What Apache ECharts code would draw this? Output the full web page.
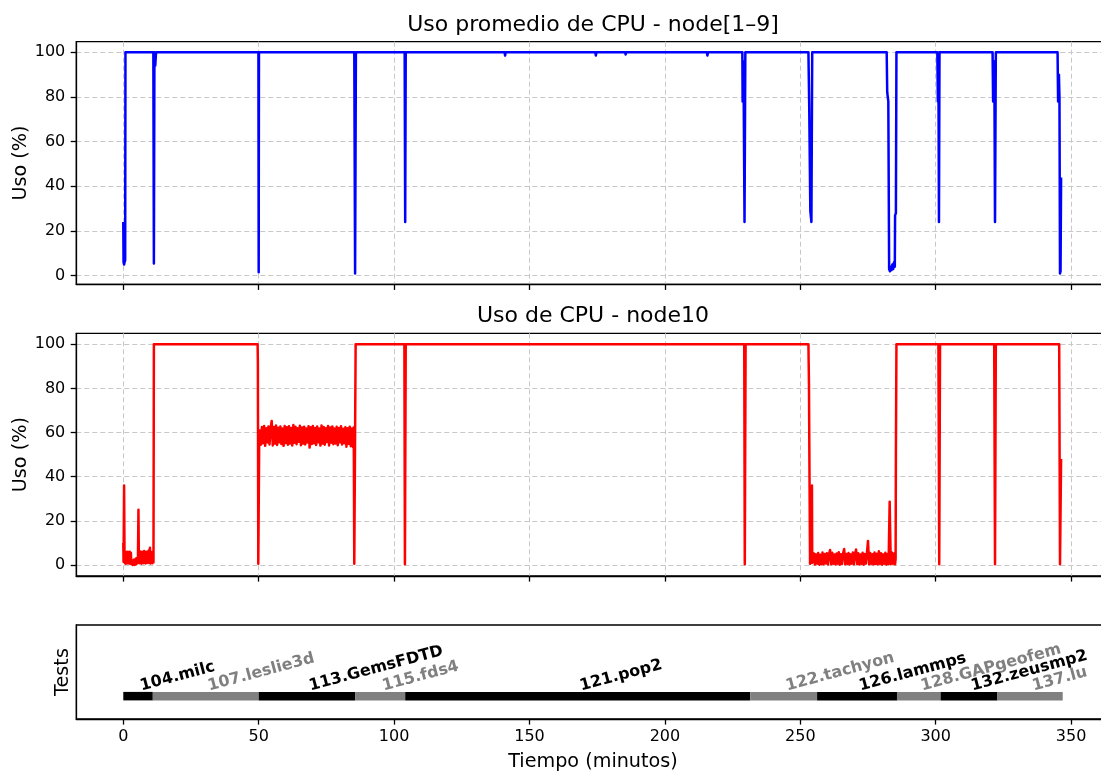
<!DOCTYPE html>
<html>
<head>
<meta charset="utf-8">
<script src="https://cdn.jsdelivr.net/npm/echarts@6/dist/echarts.min.js"></script>
<style>
  html, body { margin: 0; padding: 0; background: #ffffff; overflow: hidden; }
  /* the axes box runs a few pixels past the right edge of the window */
  #chart { width: 1120px; height: 773px; }
</style>
</head>
<body>
<div id="chart"></div>
<script>
// Tick positions
const xTicks = [0, 50, 100, 150, 200, 250, 300, 350];
const yTicks = [0, 20, 40, 60, 80, 100];

// Average CPU usage of node1..node9, [minute, %]
const nodesAvgUsage = [
  [0, 24], [0.1, 6], [0.3, 5], [0.45, 6], [0.6, 5.5], [0.7, 7], [0.8, 100],
  [11.1, 100], [11.3, 5.5], [11.5, 100], [11.8, 94], [12.1, 100],
  [49.9, 100], [50.0, 1.5], [50.1, 100],
  [85.3, 100], [85.6, 1], [85.9, 100],
  [103.9, 100], [104.1, 24], [104.3, 100],
  [140.8, 100], [141.0, 98.5], [141.2, 100],
  [174.3, 100], [174.5, 98.6], [174.7, 100],
  [185.3, 100], [185.5, 99.0], [185.7, 100],
  [215.5, 100], [215.7, 98.6], [215.9, 100],
  [223.8, 100], [224.0, 99.2], [224.2, 100],
  [228.6, 100], [228.7, 78], [228.9, 96], [229.1, 80], [229.4, 24], [229.7, 100],
  [253.0, 100], [253.3, 75], [253.7, 29], [254.1, 24], [254.4, 100],
  [281.9, 100], [282.1, 82], [282.5, 78], [282.8, 3], [283.1, 2], [283.4, 4], [283.7, 2.5],
  [284.0, 5], [284.3, 3], [284.6, 6], [284.9, 4], [285.0, 27], [285.3, 28], [285.5, 100],
  [300.6, 100], [300.8, 78], [301.0, 95], [301.2, 24], [301.4, 100],
  [321.0, 100], [321.2, 78], [321.5, 96], [321.7, 80], [321.9, 24], [322.2, 100],
  [345.0, 100], [345.2, 78], [345.5, 90], [345.7, 80], [345.9, 1], [346.1, 2], [346.3, 44]
];

// CPU usage of node10, [minute, %]
const node10Usage = [
  [0, 10], [0.1, 1.5], [0.3, 36], [0.45, 5], [0.6, 0.8], [0.8, 6], [1.0, 0.6], [1.2, 5.8],
  [1.4, 1], [1.6, 6], [1.8, 0.7], [2.0, 5.7], [2.2, 1.2], [2.4, 6], [2.6, 0.5], [2.8, 5.5],
  [3.0, 0.4], [3.2, 2.2], [3.4, 0], [3.6, 1.5], [3.8, 0.1], [4.0, 2.5], [4.2, 0], [4.4, 2],
  [4.6, 0.3], [4.8, 3], [5.0, 0.6], [5.2, 2.8], [5.4, 1], [5.6, 25], [5.75, 3], [5.9, 0.8],
  [6.1, 6.2], [6.3, 1], [6.5, 5.6], [6.7, 0.6], [6.9, 6], [7.1, 1.3], [7.3, 5.4], [7.5, 0.8],
  [7.7, 6.3], [7.9, 1], [8.1, 5.7], [8.3, 0.7], [8.5, 6], [8.7, 1.4], [8.9, 5.8], [9.1, 0.9],
  [9.3, 6.4], [9.5, 1.1], [9.7, 6], [9.85, 7.8], [10.0, 0.7], [10.2, 6], [10.4, 1], [10.6, 5.5],
  [10.8, 0.8], [11.0, 6], [11.15, 1.2], [11.3, 100],
  [49.6, 100], [49.7, 92], [49.85, 0.5], [50.2, 58],
  [50.4, 61], [50.8, 54.5], [51.2, 62.5], [51.6, 55.2], [52.0, 63], [52.4, 54], [52.8, 62], [53.2, 55.5],
  [53.6, 62.8], [54.0, 54.6], [54.4, 61.8], [54.8, 65.3], [55.2, 54.2], [55.6, 62.5], [56.0, 55], [56.4, 63.2],
  [56.8, 54.4], [57.2, 62.2], [57.6, 55.6], [58.0, 62.8], [58.4, 54.8], [58.8, 61.9], [59.2, 54], [59.6, 63],
  [60.0, 55.3], [60.4, 62.4], [60.8, 54.5], [61.2, 62.9], [61.6, 55.1], [62.0, 62.1], [62.4, 54.2], [62.8, 63.4],
  [63.2, 55.4], [63.6, 62.6], [64.0, 54.7], [64.4, 62], [64.8, 55.8], [65.2, 63.1], [65.6, 54.3], [66.0, 62.3],
  [66.4, 55], [66.8, 62.7], [67.2, 54.6], [67.6, 61.8], [68.0, 55.5], [68.4, 62.9], [68.8, 53.2], [69.2, 62.4],
  [69.6, 54.8], [70.0, 63], [70.4, 55.2], [70.8, 62.1], [71.2, 54.4], [71.6, 62.8], [72.0, 55.6], [72.4, 61.9],
  [72.8, 54.1], [73.2, 63.2], [73.6, 55], [74.0, 62.5], [74.4, 54.5], [74.8, 62], [75.2, 55.7], [75.6, 63],
  [76.0, 54.2], [76.4, 62.3], [76.8, 55.4], [77.2, 62.8], [77.6, 54.7], [78.0, 61.8], [78.4, 55.1], [78.8, 62.6],
  [79.2, 54.3], [79.6, 62.1], [80.0, 55.6], [80.4, 62.9], [80.8, 54.6], [81.2, 61.7], [81.6, 55.2], [82.0, 62.4],
  [82.4, 53.6], [82.8, 62], [83.2, 54.9], [83.6, 62.7], [84.0, 53.8], [84.4, 61.9], [84.8, 53.5], [85.1, 62.3],
  [85.3, 0.5], [85.6, 0], [85.8, 100],
  [99.2, 100], [99.4, 99.3], [99.6, 100], [100.9, 100], [101.1, 99.2], [101.3, 100],
  [103.8, 100], [104.0, 0.3], [104.3, 100],
  [214.8, 100], [215.0, 99.5], [215.2, 100],
  [229.3, 100], [229.5, 0.3], [229.8, 100],
  [253.0, 100], [253.2, 82], [253.4, 40], [253.6, 0.5], [253.9, 2], [254.0, 35], [254.3, 36], [254.4, 1],
  [254.6, 0.5], [255.0, 5.2], [255.4, 0.2], [255.8, 4.8], [256.2, 0.6], [256.6, 5.4], [257.0, 0.1], [257.4, 4.6],
  [257.8, 0.4], [258.2, 5.6], [258.6, 0.3], [259.0, 5], [259.4, 0.7], [259.8, 5.3], [260.2, 0.2], [260.6, 4.9],
  [261.0, 6.8], [261.4, 0.3], [261.8, 5.5], [262.2, 0.5], [262.6, 4.7], [263.0, 0.2], [263.4, 5.2], [263.8, 0.6],
  [264.2, 5.8], [264.6, 0.1], [265.0, 4.9], [265.4, 0.4], [265.8, 5.3], [266.2, 7.2], [266.6, 0.3], [267.0, 5],
  [267.4, 0.5], [267.8, 5.4], [268.2, 0.2], [268.6, 4.8], [269.0, 0.6], [269.4, 5.6], [269.8, 0.3], [270.2, 5.1],
  [270.6, 7], [271.0, 0.4], [271.4, 5.3], [271.8, 0.2], [272.2, 4.7], [272.6, 0.5], [273.0, 5.5], [273.4, 0.1],
  [273.8, 5], [274.2, 0.6], [274.6, 5.2], [275.0, 10.9], [275.4, 0.3], [275.8, 5.4], [276.2, 0.5], [276.6, 4.9],
  [277.0, 0.2], [277.4, 5.6], [277.8, 0.4], [278.2, 5.1], [278.6, 0.3], [279.0, 6.2], [279.4, 0.5], [279.8, 5.3],
  [280.2, 0.1], [280.6, 4.8], [281.0, 0.6], [281.4, 5.5], [281.8, 0.2], [282.2, 5], [282.6, 0.4], [283.0, 28.7],
  [283.4, 0.3], [283.8, 5.7], [284.2, 0.5], [284.6, 5.2], [285.0, 0.3],
  [285.2, 3], [285.3, 50], [285.5, 100],
  [301.0, 100], [301.3, 0.3], [301.6, 100],
  [316.0, 100], [316.2, 99.4], [316.4, 100],
  [319.8, 100], [320.0, 99.3], [320.2, 100],
  [321.6, 100], [321.9, 0.3], [322.2, 100],
  [345.6, 100], [345.9, 0.3], [346.1, 1], [346.3, 48]
];

// Benchmark runs, minutes
const testNames = ['104.milc', '107.leslie3d', '113.GemsFDTD', '115.fds4', '121.pop2',
                   '122.tachyon', '126.lammps', '128.GAPgeofem', '132.zeusmp2', '137.lu'];
const testStart = [0, 10.9, 50.0, 85.6, 104.1, 231.5, 256.2, 285.7, 301.8, 322.8];
const testEnd   = [10.9, 50.0, 85.6, 104.1, 231.5, 256.2, 285.7, 301.8, 322.8, 346.9];

// ---- layout & style ----
const FONT = 'DejaVu Sans';
const PLOT_LEFT = 76.3;
const PLOT_WIDTH = 1033.4;
const X_MIN = -17.35, X_MAX = 364.25;
const TICK_FONT = 16;
const LABEL_FONT = 19.2;
const GRID_LINE = { color: '#c8c8c8', width: 1, type: [5, 3] };
const SPINE = { color: '#000000', width: 1.3 };
const BAR_LEVEL = 0.243;   // vertical position of the run bars inside the bottom panel (0..1)
const BAR_PX = 8.5;        // bar thickness

const chart = echarts.init(document.getElementById('chart'), null, { renderer: 'canvas' });

function xAxis(gridIndex, showLabels, showGrid) {
  return {
    type: 'value', gridIndex: gridIndex, min: X_MIN, max: X_MAX,
    axisLine: { show: true, onZero: false, lineStyle: SPINE },
    axisTick: { show: true, inside: false, length: 5.6, lineStyle: SPINE, customValues: xTicks },
    axisLabel: {
      show: showLabels, customValues: xTicks, margin: 10,
      fontFamily: FONT, fontSize: TICK_FONT, color: '#000000'
    },
    splitLine: { show: showGrid, lineStyle: GRID_LINE },
    name: showLabels ? 'Tiempo (minutos)' : '',
    nameLocation: 'middle', nameGap: 34, nameMoveOverlap: false,
    nameTextStyle: { fontFamily: FONT, fontSize: LABEL_FONT, color: '#000000' }
  };
}

function usageYAxis(gridIndex, min, max) {
  return {
    type: 'value', gridIndex: gridIndex, min: min, max: max,
    axisLine: { show: true, onZero: false, lineStyle: SPINE },
    axisTick: { show: true, inside: false, length: 5.6, lineStyle: SPINE, customValues: yTicks },
    axisLabel: {
      customValues: yTicks, margin: 11,
      fontFamily: FONT, fontSize: TICK_FONT, color: '#000000'
    },
    splitLine: { show: true, lineStyle: GRID_LINE },
    name: 'Uso (%)', nameLocation: 'middle', nameRotate: 90, nameGap: 46, nameMoveOverlap: false,
    nameTextStyle: { fontFamily: FONT, fontSize: LABEL_FONT, color: '#000000' }
  };
}

const gridBox = { show: true, borderColor: '#000000', borderWidth: 1.3, backgroundColor: 'transparent' };

const runData = testNames.map((n, i) => [testStart[i], testEnd[i], i]);

const option = {
  animation: false,
  backgroundColor: '#ffffff',
  title: [
    {
      text: 'Uso promedio de CPU - node[1–9]', left: PLOT_LEFT + PLOT_WIDTH / 2, top: 14,
      textAlign: 'center', padding: 0,
      textStyle: { fontFamily: FONT, fontSize: 22, fontWeight: 'normal', color: '#000000' }
    },
    {
      text: 'Uso de CPU - node10', left: PLOT_LEFT + PLOT_WIDTH / 2, top: 305.6,
      textAlign: 'center', padding: 0,
      textStyle: { fontFamily: FONT, fontSize: 22, fontWeight: 'normal', color: '#000000' }
    }
  ],
  grid: [
    Object.assign({ left: PLOT_LEFT, top: 41.7, width: PLOT_WIDTH, height: 242.6 }, gridBox),
    Object.assign({ left: PLOT_LEFT, top: 333.3, width: PLOT_WIDTH, height: 242.7 }, gridBox),
    Object.assign({ left: PLOT_LEFT, top: 625, width: PLOT_WIDTH, height: 96.7 }, gridBox)
  ],
  xAxis: [xAxis(0, false, true), xAxis(1, false, true), xAxis(2, true, false)],
  yAxis: [
    usageYAxis(0, -3.85, 104.74),
    usageYAxis(1, -5, 105),
    {
      type: 'value', gridIndex: 2, min: 0, max: 1,
      axisLine: { show: true, onZero: false, lineStyle: SPINE },
      axisTick: { show: false }, axisLabel: { show: false }, splitLine: { show: false },
      name: 'Tests', nameLocation: 'middle', nameRotate: 90, nameGap: 4, nameMoveOverlap: false,
      nameTextStyle: { fontFamily: FONT, fontSize: LABEL_FONT, color: '#000000' }
    }
  ],
  series: [
    {
      type: 'line', xAxisIndex: 0, yAxisIndex: 0, data: nodesAvgUsage,
      showSymbol: false, symbol: 'none', sampling: null, progressive: 0,
      lineStyle: { color: '#0000ff', width: 2.5, join: 'round', cap: 'butt' }
    },
    {
      type: 'line', xAxisIndex: 1, yAxisIndex: 1, data: node10Usage,
      showSymbol: false, symbol: 'none', sampling: null, progressive: 0,
      lineStyle: { color: '#ff0000', width: 2.5, join: 'round', cap: 'butt' }
    },
    {
      type: 'custom', xAxisIndex: 2, yAxisIndex: 2, data: runData,
      encode: { x: [0, 1] },
      renderItem: function (params, api) {
        const idx = api.value(2);
        const a = api.coord([api.value(0), BAR_LEVEL]);
        const b = api.coord([api.value(1), BAR_LEVEL]);
        const color = idx % 2 === 0 ? '#000000' : '#808080';
        const top = a[1] - BAR_PX / 2;
        const cx = (a[0] + b[0]) / 2;
        return {
          type: 'group',
          children: [
            { type: 'rect', shape: { x: a[0], y: top, width: b[0] - a[0], height: BAR_PX },
              style: { fill: color } },
            { type: 'text', x: cx + 2.5, y: top - 5.5, rotation: 15 * Math.PI / 180,
              style: { text: testNames[idx], fill: color,
                       font: 'bold 16px "DejaVu Sans"', align: 'left', verticalAlign: 'middle' } }
          ]
        };
      }
    }
  ]
};

chart.setOption(option);
</script>
</body>
</html>
